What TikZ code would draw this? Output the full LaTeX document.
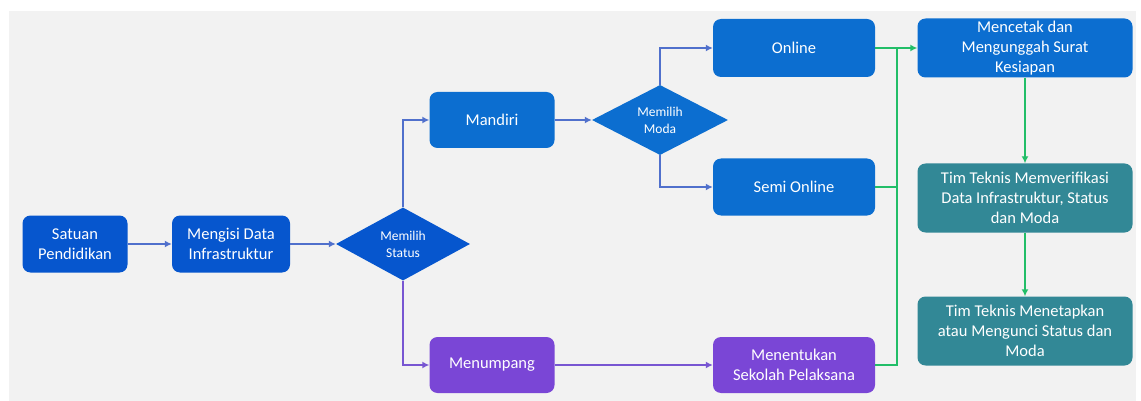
\documentclass[tikz,border=0pt]{standalone}
\usepackage{fontspec}
\setmainfont{Carlito}
\usetikzlibrary{shapes.geometric,arrows.meta,scopes}
\definecolor{bggray}{RGB}{242,242,242}
\definecolor{deepblue}{RGB}{6,86,206}
\definecolor{modeblue}{RGB}{12,110,208}
\definecolor{umpang}{RGB}{122,70,214}
\definecolor{teknis}{RGB}{50,136,150}
\definecolor{lineblue}{RGB}{80,112,204}
\definecolor{linepurple}{RGB}{120,86,210}
\definecolor{linegreen}{RGB}{34,190,104}
\begin{document}
\begin{tikzpicture}[
    x=1pt,y=-1pt,
    box/.style={rectangle,rounded corners=8pt,text=white,align=center,
        inner sep=2pt,font=\fontsize{16.5}{20}\selectfont},
    choice/.style={diamond,fill=deepblue,text=white,align=center,inner sep=0pt,
        aspect=1.85,font=\fontsize{13.5}{17}\selectfont},
    flow/.style={line width=2.5pt,-{Latex[length=7pt,width=7pt]}},
    link/.style={line width=2.5pt},
    ]
\useasboundingbox (0,0) rectangle (1141,401);
\fill[bggray] (9,11) rectangle (1136,401);

    %% Start and data entry
    \node[box,fill=deepblue,minimum width=105pt,minimum height=57pt] (satuan) at (75,244) {Satuan\\Pendidikan};
    \node[box,fill=deepblue,minimum width=118pt,minimum height=57pt] (isi) at (231,244) {Mengisi Data\\Infrastruktur};
    \node[choice,minimum width=134pt,minimum height=73pt] (status) at (403,244) {Memilih\\Status};

    %% Status branches
    \node[box,fill=modeblue,minimum width=125pt,minimum height=56pt] (mandiri) at (492,120) {Mandiri};
    \node[box,fill=umpang,minimum width=125pt,minimum height=56pt] (numpang) at (492,365) {Menumpang};
    \node[choice,fill=modeblue,minimum width=136pt,minimum height=70pt] (moda) at (660,120) {Memilih\\Moda};

    %% Modes
    \node[box,fill=modeblue,minimum width=162pt,minimum height=58pt] (online) at (794,48) {Online};
    \node[box,fill=modeblue,minimum width=162pt,minimum height=57pt] (semi) at (794,187) {Semi Online};
    \node[box,fill=umpang,minimum width=162pt,minimum height=56pt] (tentu) at (794,365) {Menentukan\\Sekolah Pelaksana};

    %% Final steps
    \node[box,fill=modeblue,minimum width=215pt,minimum height=59pt] (cetak) at (1025,48) {Mencetak dan\\Mengunggah Surat\\Kesiapan};
    \node[box,fill=teknis,minimum width=215pt,minimum height=69pt] (verif) at (1025,198) {Tim Teknis Memverifikasi\\Data Infrastruktur, Status\\dan Moda};
    \node[box,fill=teknis,minimum width=215pt,minimum height=69pt] (kunci) at (1025,331) {Tim Teknis Menetapkan\\atau Mengunci Status dan\\Moda};

    % Blue connectors
    {[flow,draw=lineblue]
        \draw (satuan) -- (isi);
        \draw (isi) -- (status);
        \draw (status.north) |- (mandiri.west);
        \draw (mandiri) -- (moda);
        \draw (moda.north) |- (online.west);
        \draw (moda.south) |- (semi.west);
    }
    % Purple connectors
    {[flow,draw=linepurple]
        \draw (status.south) |- (numpang.west);
        \draw (numpang) -- (tentu);
    }
    % Green trunk collecting the three routes
    \coordinate (trunk) at (897,365);
    {[link,draw=linegreen]
        \draw (tentu.east) -- (trunk) -- (trunk |- online.east);
        \draw (semi.east) -- (trunk |- semi.east);
    }
    {[flow,draw=linegreen]
        \draw (online) -- (cetak);
        \draw (cetak) -- (verif);
        \draw (verif) -- (kunci);
    }
\end{tikzpicture}
\end{document}
